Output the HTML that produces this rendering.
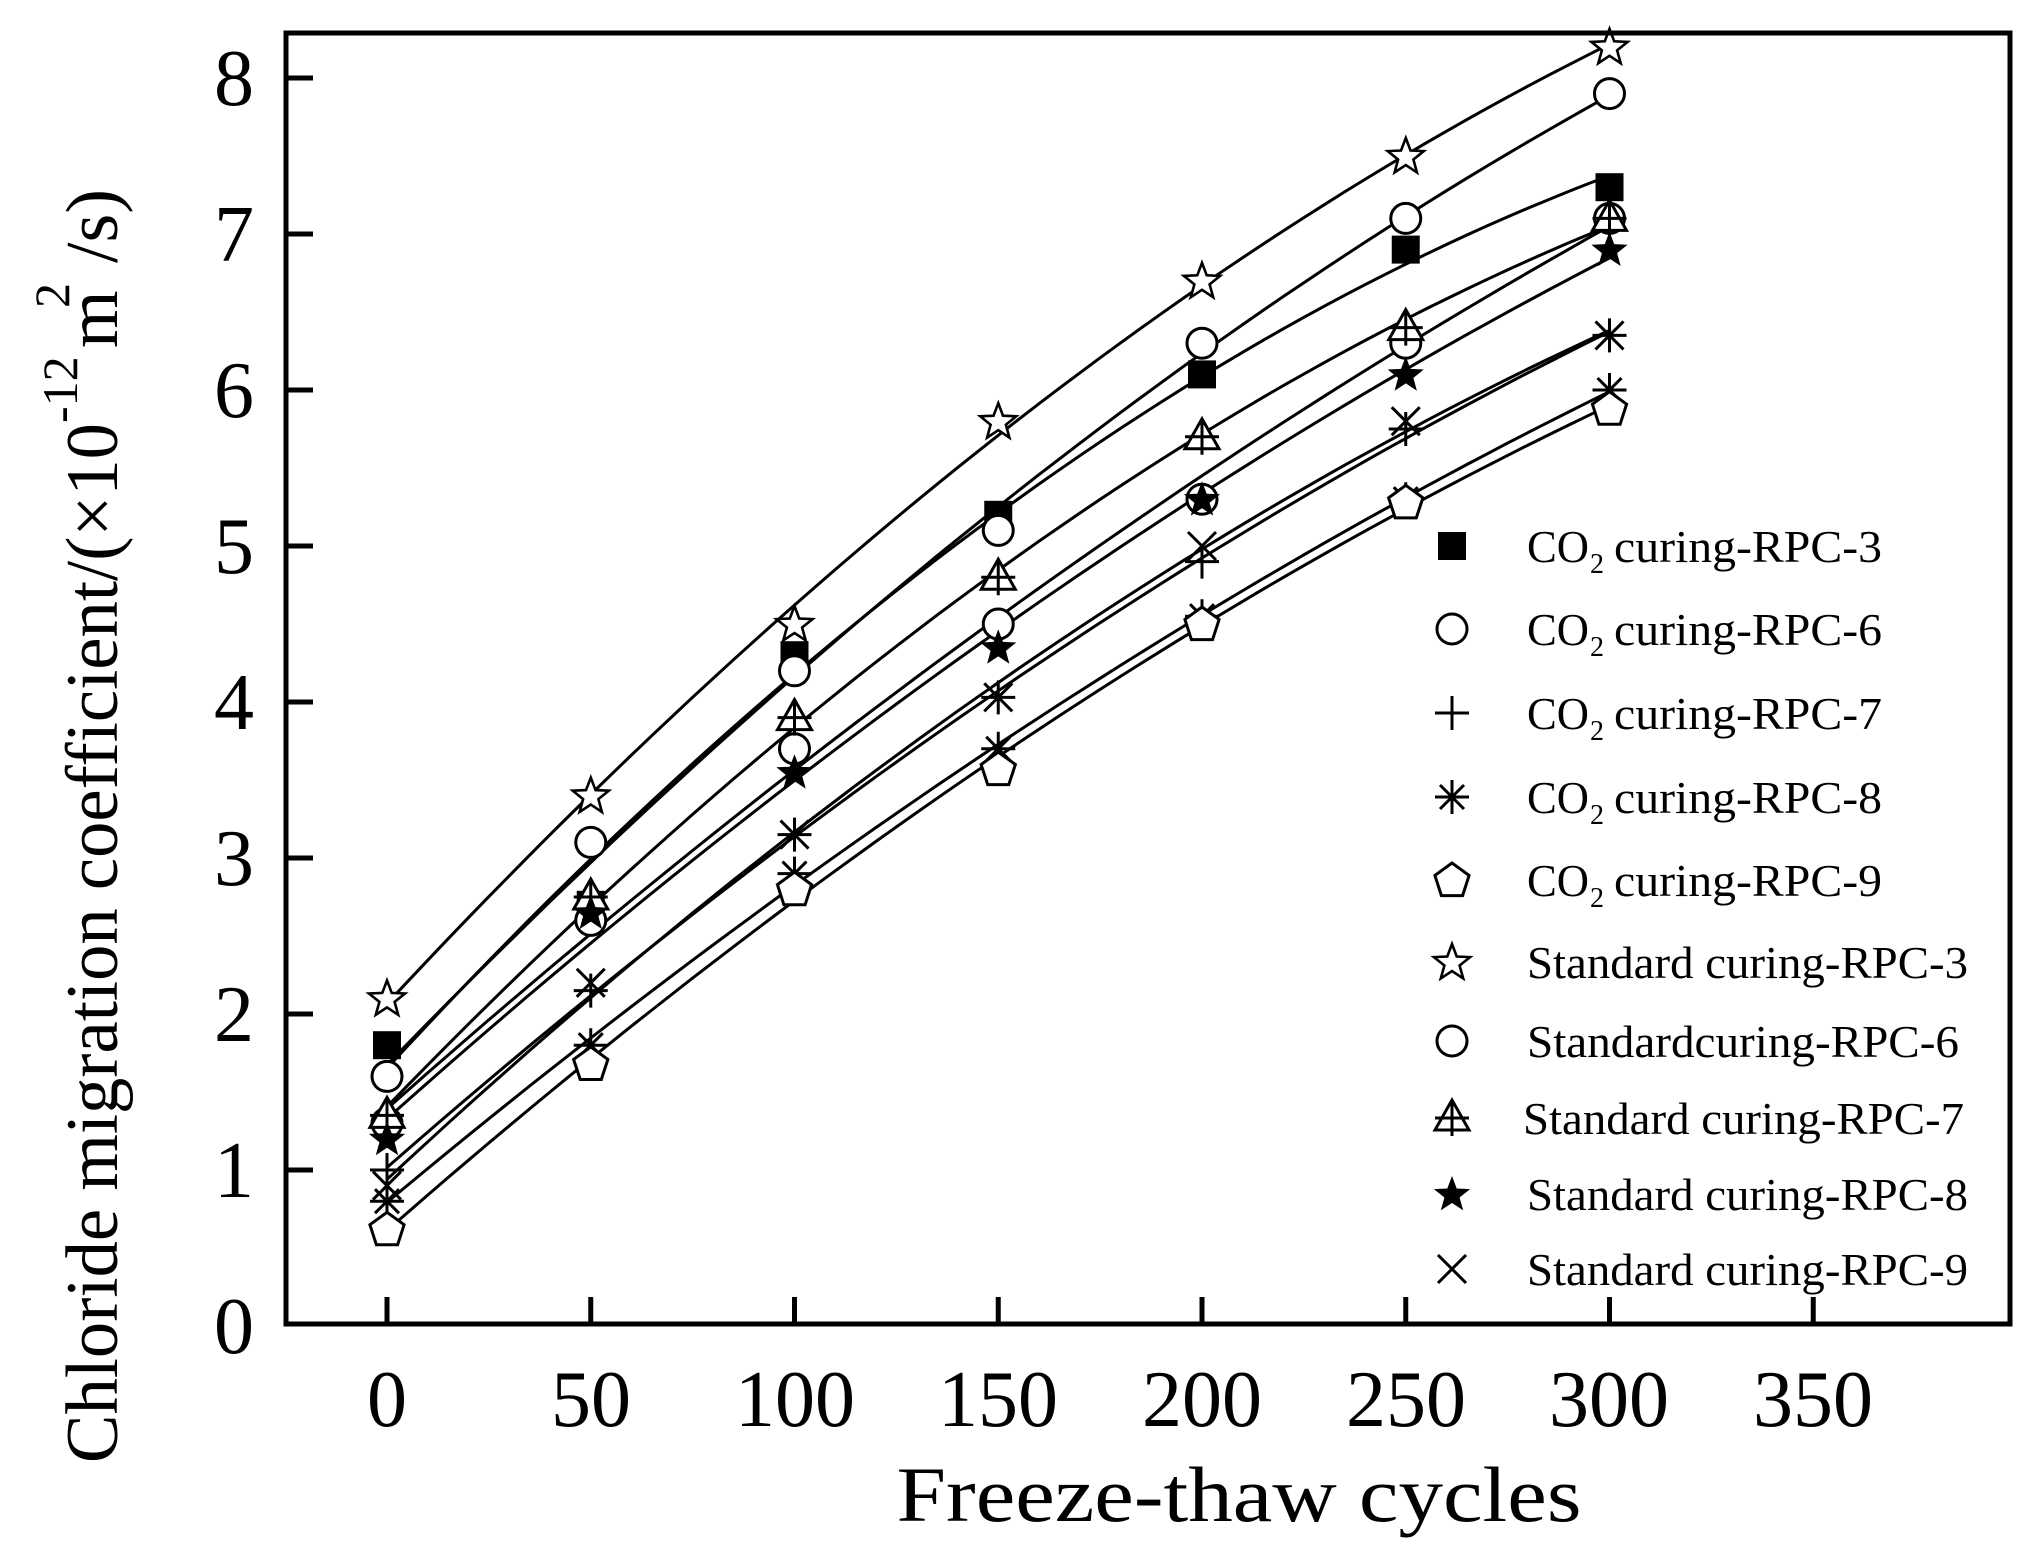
<!DOCTYPE html>
<html><head><meta charset="utf-8"><style>html,body{margin:0;padding:0;background:#fff}svg{display:block}</style></head>
<body>
<svg id="s" width="2043" height="1567" xmlns="http://www.w3.org/2000/svg" font-family="Liberation Serif, serif">
<rect width="2043" height="1567" fill="#fff"/>
<g id="plot"></g>
<rect x="286" y="33" width="1724" height="1291" fill="none" stroke="#000" stroke-width="5"/>
<g id="ticks" stroke="#000" stroke-width="5"></g>
<g font-size="80" text-anchor="middle">
<text x="387" y="1426">0</text><text x="591" y="1426">50</text><text x="795" y="1426">100</text><text x="998" y="1426">150</text><text x="1202" y="1426">200</text><text x="1406" y="1426">250</text><text x="1609" y="1426">300</text><text x="1813" y="1426">350</text>
</g>
<g font-size="80" text-anchor="end">
<text x="254" y="1353">0</text><text x="254" y="1197">1</text><text x="254" y="1041">2</text><text x="254" y="885">3</text><text x="254" y="729">4</text><text x="254" y="573">5</text><text x="254" y="417">6</text><text x="254" y="261">7</text><text x="254" y="105">8</text>
</g>
<text x="1239" y="1521" font-size="78" text-anchor="middle" textLength="685" lengthAdjust="spacingAndGlyphs">Freeze-thaw cycles</text>
<g transform="translate(117,1463) rotate(-90)" font-size="74">
<text x="0" y="0" textLength="1040" lengthAdjust="spacingAndGlyphs">Chloride migration coefficient/(×10</text>
<text x="1040" y="-40" font-size="50">-12</text>
<text x="1115" y="0">m</text>
<text x="1155" y="-48" font-size="50">2</text>
<text x="1200" y="0">/s)</text>
</g>
<g id="legend" font-size="46"></g>
</svg>
<script>
const NS="http://www.w3.org/2000/svg";
const X=v=>387+4.075*v, Y=v=>1326-156*v;
function el(p,t,a){const e=document.createElementNS(NS,t);for(const k in a)e.setAttribute(k,a[k]);p.appendChild(e);return e;}
const ticks=document.getElementById('ticks');
for(let i=0;i<=7;i++){const x=X(i*50);el(ticks,'line',{x1:x,y1:1324,x2:x,y2:1297});}
for(let i=1;i<=8;i++){const y=Y(i);el(ticks,'line',{x1:286,y1:y,x2:313,y2:y});}
function starPts(cx,cy,R,r){let p=[];for(let i=0;i<10;i++){const a=-Math.PI/2+i*Math.PI/5,rr=i%2?r:R;p.push((cx+rr*Math.cos(a)).toFixed(1)+','+(cy+rr*Math.sin(a)).toFixed(1));}return p.join(' ');}
function pentPts(cx,cy,R){let p=[];for(let i=0;i<5;i++){const a=-Math.PI/2+i*2*Math.PI/5;p.push((cx+R*Math.cos(a)).toFixed(1)+','+(cy+R*Math.sin(a)).toFixed(1));}return p.join(' ');}
function marker(g,type,x,y){const st={stroke:'#000','stroke-width':3,fill:'none'};
 switch(type){
 case 'sq':el(g,'rect',{x:x-14,y:y-14,width:28,height:28,fill:'#000'});break;
 case 'ci':el(g,'circle',{cx:x,cy:y,r:15,fill:'#fff',stroke:'#000','stroke-width':3});break;
 case 'pl':el(g,'path',Object.assign({d:`M${x-17},${y}H${x+17}M${x},${y-17}V${y+17}`},st));break;
 case 'as':el(g,'path',Object.assign({d:`M${x-17},${y}H${x+17}M${x},${y-17}V${y+17}M${x-12},${y-12}L${x+12},${y+12}M${x-12},${y+12}L${x+12},${y-12}`},st));break;
 case 'pe':el(g,'polygon',{points:pentPts(x,y+1,18),fill:'#fff',stroke:'#000','stroke-width':3});break;
 case 'st':el(g,'polygon',{points:starPts(x,y+1,19,8),fill:'#fff',stroke:'#000','stroke-width':2.6});break;
 case 'tr':el(g,'polygon',{points:`${x},${y-18} ${x+17},${y+12} ${x-17},${y+12}`,fill:'#fff',stroke:'#000','stroke-width':3});
   el(g,'path',Object.assign({d:`M${x-17},${y}H${x+17}M${x},${y-18}V${y+18}`},st));break;
 case 'fs':el(g,'polygon',{points:starPts(x,y+1,19,8),fill:'#000'});break;
 case 'x':el(g,'path',Object.assign({d:`M${x-14},${y-14}L${x+14},${y+14}M${x-14},${y+14}L${x+14},${y-14}`},st));break;
 }}
const S=[
['sq',[1.8,2.7,4.3,5.2,6.1,6.9,7.3]],
['ci',[1.3,2.6,3.7,4.5,5.3,6.3,7.1]],
['pl',[1.0,2.15,3.15,4.03,4.9,5.75,6.35]],
['as',[0.8,1.8,2.9,3.7,4.55,5.3,6.0]],
['pe',[0.62,1.68,2.8,3.57,4.5,5.28,5.88]],
['st',[2.1,3.4,4.5,5.8,6.7,7.5,8.2]],
['ci',[1.6,3.1,4.2,5.1,6.3,7.1,7.9]],
['tr',[1.35,2.75,3.9,4.8,5.7,6.4,7.1]],
['fs',[1.2,2.65,3.55,4.35,5.3,6.1,6.9]],
['x',[0.9,2.2,3.15,4.03,5.0,5.8,6.35]]];
const plot=document.getElementById('plot');
S.forEach(([t,ys])=>{
 let a0=ys.reduce((a,b)=>a+b,0)/7,a1=0,a2=0;const P2=[5,0,-3,-4,-3,0,5];
 ys.forEach((y,i)=>{a1+=y*(i-3);a2+=y*P2[i];});a1/=28;a2/=84;
 const f=tt=>a0+a1*(tt-3)+a2*((tt-3)*(tt-3)-4);
 let d='';for(let k=0;k<=60;k++){const tt=k/10;d+=(k?'L':'M')+X(tt*50).toFixed(1)+','+Y(f(tt)).toFixed(1);}
 el(plot,'path',{d:d,fill:'none',stroke:'#000','stroke-width':3});
});
S.forEach(([t,ys])=>{ys.forEach((y,i)=>marker(plot,t,X(i*50),Y(y)));});
const L=document.getElementById('legend');
const names=[['CO','curing-RPC-3'],['CO','curing-RPC-6'],['CO','curing-RPC-7'],['CO','curing-RPC-8'],['CO','curing-RPC-9'],
['Standard curing-RPC-3'],['Standardcuring-RPC-6'],['Standard curing-RPC-7'],['Standard curing-RPC-8'],['Standard curing-RPC-9']];
const rows=[546,629,713,797,880,962,1041,1118,1194,1269];
names.forEach((n,i)=>{const y=rows[i];marker(L,S[i][0],1452,y);
 if(n.length==2){el(L,'text',{x:1527,y:y+16,textLength:62,lengthAdjust:'spacingAndGlyphs'}).textContent='CO';
  el(L,'text',{x:1590,y:y+27,'font-size':28}).textContent='2';
  el(L,'text',{x:1614,y:y+16,textLength:268,lengthAdjust:'spacingAndGlyphs'}).textContent=n[1];}
 else{el(L,'text',{x:i==7?1523:1527,y:y+16,textLength:i==6?432:441,lengthAdjust:'spacingAndGlyphs'}).textContent=n[0];}
});
</script>
</body></html>
